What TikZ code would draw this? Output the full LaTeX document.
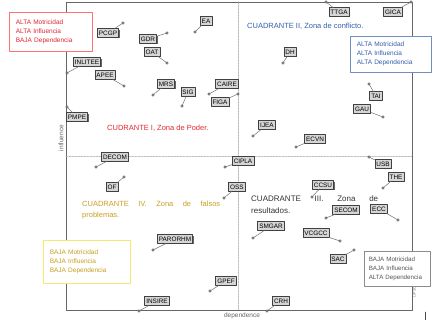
\documentclass[tikz,border=0pt]{standalone}
\usepackage{fontspec}
\setmainfont{Liberation Sans}
\usetikzlibrary{shadows}
\definecolor{rojo}{RGB}{222,40,48}
\definecolor{azul}{RGB}{50,95,170}
\definecolor{oro}{RGB}{200,158,30}
\definecolor{gris}{RGB}{85,85,85}
\definecolor{amarillo}{RGB}{246,232,112}
\tikzset{
	var/.style={draw=black!75, fill=black!16, inner xsep=1.6pt, inner ysep=1pt, minimum height=8.5pt, font=\fontsize{6.4}{7}\selectfont, line width=0.5pt, drop shadow={shadow xshift=0.9pt, shadow yshift=-0.9pt, fill=black!75, opacity=0.8}},
	enlace/.style={draw=black!55, line width=0.5pt},
	punto/.style={draw=black!70, fill=black!35, line width=0.4pt},
	marco/.style={draw=black!60, line width=0.6pt},
	guia/.style={draw=black!35, densely dotted, line width=0.5pt},
	caja/.style={fill=white, line width=0.6pt, anchor=north west, align=left, inner xsep=6.5pt, inner ysep=0pt, font=\fontsize{6.5}{9}\selectfont},
	zona/.style={inner sep=0pt, anchor=north west, align=left}
}
\begin{document}
\begin{tikzpicture}[x=1pt, y=-1pt, font=\fontsize{6.5}{8}\selectfont, line join=round, line cap=round]
	\def\xmin{66} \def\xmax{412} \def\ymin{2} \def\ymax{310} % marco
	\def\xmed{238} \def\ymed{156}
	\useasboundingbox (0,0) rectangle (432,320);
	\draw[marco] (\xmin,\ymin) rectangle (\xmax,\ymax);
	\draw[guia] (\xmed,\ymin)--(\xmed,\ymax) (\xmin,\ymed)--(\xmax,\ymed);
	\node[rotate=90, text=black!60, inner sep=0pt] (infl) at (61,138) {influence};
	\node[text=black!60, inner sep=0pt] (dep) at (242,316) {dependence};
	\node[rotate=90, text=black!55, inner sep=0pt, font=\fontsize{3.6}{4}\selectfont] (sello) at (414.5,277) {LIPSOR-EPITA-MICMAC};
	\draw[black!70] (425,312)--(425,320);
	% cuadrantes
	\node[caja, draw=red!55, text=rojo, text width=70pt, minimum height=39pt] (cajaI) at (9,12) {ALTA Motricidad\\ALTA Influencia\\BAJA Dependencia};
	\node[caja, draw=azul!70, text=azul, text width=68pt, minimum height=36pt] (cajaII) at (350,36) {ALTA Motricidad\\ALTA Influencia\\ALTA Dependencia};
	\node[caja, draw=amarillo, text=oro, text width=74pt, minimum height=43pt] (cajaIV) at (43,240) {BAJA Motricidad\\BAJA Influencia\\BAJA Dependencia};
	\node[caja, draw=black!45, text=gris, inner xsep=4.5pt, text width=57pt, minimum height=35pt, font=\fontsize{6.2}{9}\selectfont] (cajaIII) at (364,251) {BAJA Motricidad\\BAJA Influencia\\ALTA Dependencia};
	\node[zona, anchor=west, text=rojo, font=\fontsize{7.5}{9}\selectfont] (zonaI) at (107,128) {CUDRANTE I, Zona de Poder.};
	\node[zona, anchor=west, text=azul, font=\fontsize{7.5}{9}\selectfont] (zonaII) at (247,26) {CUADRANTE II, Zona de conflicto.};
	\node[zona, text=black!80, text width=127pt, font=\fontsize{8}{12}\selectfont] (zonaIII) at (251,196) {CUADRANTE\hfill III.\hfill Zona\hfill de\\resultados.};
	\node[zona, text=oro, text width=138pt, font=\fontsize{7.5}{11.5}\selectfont] (zonaIV) at (82,200.5) {CUADRANTE\hfill IV.\hfill Zona\hfill de\hfill falsos\\problemas.};
	% variables: nombre/etiqueta x/y/punto x/y
	\foreach \n/\lx/\ly/\px/\py in {PCGP/108/33/123/23, GDR/148/39/167/33, EA/206/21/195/32, OAT/152/52/167/63,
		INLITEE/87/62/67/73, APEE/105/75/124/86, MRS/166/84/153/95, SIG/188/92/182/106,
		CAIRE/227/84/209/94, FIGA/220/102/238/94, PMPE/77/117/67/107, IJEA/267/125/253/136,
		ECVN/315/139/296/147, DH/290/52/283/63, TTGA/339/12/326/2, GICA/393/12/411/2,
		TAI/376/96/369/84, GAU/362/109/383/117, USB/383/164/369/157, THE/396/177/383/188,
		ECC/379/209/398/220, SECOM/346/210/326/218, CCSU/323/185/312/197, CIPLA/243/161/225/167,
		OSS/237/187/224/198, DECOM/115/157/96/167, OF/112/187/124/177, PARORHM/175/239/153/250,
		INSIRE/157/301/139/311, GPEF/226/281/210/291, CRH/281/301/267/311, SMGAR/271/226/253/238,
		VCGCC/316/233/340/241, SAC/338/259/354/250}{
		\coordinate (p\n) at (\px,\py);
		\node[var] (\n) at (\lx,\ly) {\n};
		\draw[enlace] (p\n)--(\n);
		\draw[punto] (p\n) circle(1.3pt);
	}
\end{tikzpicture}
\end{document}
